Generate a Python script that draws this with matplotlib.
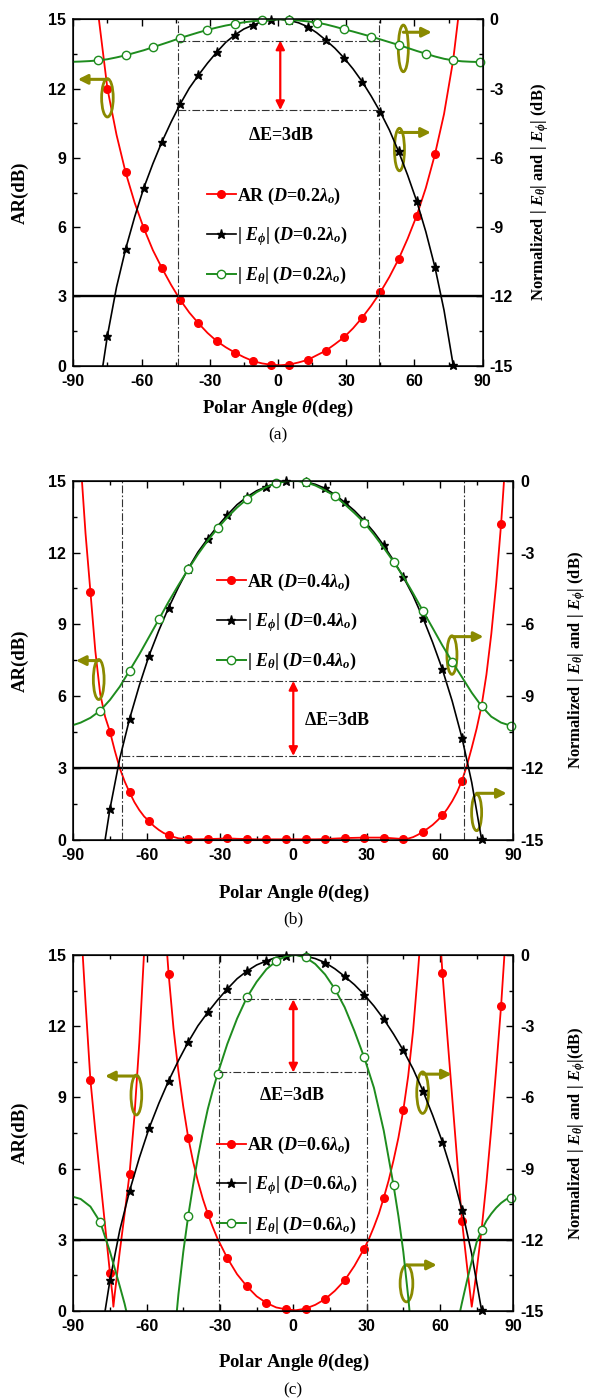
import matplotlib.pyplot as plt
from matplotlib.patches import Ellipse
from matplotlib.lines import Line2D

# Serif bold text everywhere, with bold italic math symbols
plt.rcParams['font.family'] = ['Liberation Serif', 'DejaVu Serif']
plt.rcParams['font.weight'] = 'bold'
plt.rcParams['mathtext.fontset'] = 'custom'
plt.rcParams['mathtext.rm'] = 'Liberation Serif:bold'
plt.rcParams['mathtext.it'] = 'Liberation Serif:italic:bold'
plt.rcParams['mathtext.bf'] = 'Liberation Serif:bold'
plt.rcParams['axes.unicode_minus'] = False

# Marker angles (deg)
mk8 = [-83, -75, -67, -59, -51, -43, -35, -27, -19, -11, -3, 5, 13, 21, 29, 37, 45, 53, 61, 69, 77, 85]
mk12 = [-79, -67, -55, -43, -31, -19, -7, 5, 17, 29, 41, 53, 65, 77, 89]

# Angle grid used by most curves (deg)
grid4 = [-87, -83, -79, -75, -71, -67, -63, -59, -55, -51, -47, -43, -39, -35, -31, -27, -23,
         -19, -15, -11, -7, -3, 1, 5, 9, 13, 17, 21, 25, 29, 33, 37, 41, 45, 49, 53, 57,
         61, 65, 69, 73, 77, 81, 85, 89]

# |E_phi| (dB) - same for all three spacings
ephi_x = grid4
ephi_db = [-24, -20, -16.3, -13.7, -11.6, -9.95, -8.55, -7.3, -6.25, -5.3, -4.45, -3.67, -2.98,
           -2.42, -1.9, -1.43, -1.0, -0.68, -0.42, -0.25, -0.1, -0.03, 0.0, -0.05, -0.15, -0.32,
           -0.58, -0.9, -1.25, -1.67, -2.15, -2.7, -3.33, -4.02, -4.8, -5.72, -6.75, -7.88,
           -9.2, -10.73, -12.6, -14.96, -17.8, -21, -25]

# (a) D = 0.2 lambda
ar_a_x = grid4
ar_a = [24, 19.5, 15.2, 12.0, 10.0, 8.37, 7.05, 5.95, 5.0, 4.22, 3.5, 2.85, 2.3, 1.84, 1.42,
        1.07, 0.8, 0.57, 0.37, 0.2, 0.1, 0.04, 0.02, 0.05, 0.14, 0.25, 0.45, 0.65, 0.93, 1.23,
        1.62, 2.08, 2.6, 3.18, 3.85, 4.61, 5.5, 6.5, 7.7, 9.15, 10.9, 13.22, 16.5, 21, 26]
eth_a_x = [-90] + grid4 + [90]
eth_a = [-1.84, -1.83, -1.81, -1.78, -1.73, -1.65, -1.56, -1.45, -1.34, -1.21, -1.08, -0.95,
         -0.81, -0.69, -0.57, -0.46, -0.36, -0.27, -0.2, -0.13, -0.08, -0.05, -0.02, 0.0,
         -0.02, -0.05, -0.09, -0.14, -0.22, -0.32, -0.43, -0.53, -0.64, -0.75, -0.87, -0.99,
         -1.11, -1.24, -1.37, -1.49, -1.61, -1.71, -1.78, -1.82, -1.84, -1.85, -1.85]

# (b) D = 0.4 lambda
ar_b_x = [-89, -87, -85, -83, -81, -79, -77, -75, -73, -71, -69, -67, -65, -63, -61, -59, -57,
          -55, -53, -51, -49, -47, -43, -39, -35, -31, -27, -23, -19, -15, -11, -7, -3, 1, 5,
          9, 13, 17, 21, 25, 29, 33, 37, 41, 45, 47, 49, 51, 53, 55, 57, 59, 61, 63, 65, 67,
          69, 71, 73, 75, 77, 79, 81, 83, 85, 87, 89]
ar_b = [20, 15.8, 12.8, 10.37, 7.9, 6.1, 5.15, 4.52, 3.72, 3.0, 2.45, 1.99, 1.58, 1.25, 0.98,
        0.79, 0.58, 0.42, 0.29, 0.21, 0.13, 0.07, 0.03, 0.03, 0.04, 0.05, 0.07, 0.05, 0.04,
        0.03, 0.03, 0.03, 0.03, 0.03, 0.03, 0.03, 0.04, 0.06, 0.08, 0.09, 0.1, 0.1, 0.1, 0.07,
        0.04, 0.06, 0.12, 0.22, 0.35, 0.48, 0.63, 0.82, 1.03, 1.3, 1.62, 2.0, 2.48, 3.1, 3.85,
        4.65, 5.59, 6.9, 8.6, 10.7, 13.18, 16.2, 20]
eth_b_x = [-90] + grid4 + [90]
eth_b = [-10.2, -10.1, -9.9, -9.6, -9.15, -8.6, -7.93, -7.25, -6.52, -5.79, -5.05, -4.36, -3.7,
         -3.07, -2.5, -1.99, -1.53, -1.12, -0.77, -0.48, -0.26, -0.11, -0.02, 0.0, -0.06,
         -0.2, -0.4, -0.64, -0.98, -1.35, -1.75, -2.25, -2.8, -3.38, -4.0, -4.7, -5.43,
         -6.15, -6.88, -7.56, -8.2, -8.85, -9.41, -9.85, -10.1, -10.23, -10.25]

# (c) D = 0.6 lambda
ar_c_x = [-89, -87, -85, -83, -81, -79, -77, -75, -74, -73.6, -73, -71, -69, -67, -65, -63,
          -61, -59, -57, -55, -53, -51, -49, -47, -45, -43, -41, -39, -37, -35, -33, -31,
          -27, -23, -19, -15, -11, -7, -3, 1, 5, 9, 13, 17, 21, 25, 29, 31, 33, 35, 37, 39,
          41, 43, 45, 47, 49, 51, 53, 55, 57, 59, 61, 63, 65, 67, 69, 71, 72, 73, 74, 75,
          77, 79, 81, 83, 85, 87, 89]
ar_c = [22, 16.5, 13.0, 9.73, 7.6, 5.6, 3.6, 1.59, 0.7, 0.18, 0.75, 2.5, 4.1, 5.77, 8.2, 11.3,
        15.2, 20, 26, 26, 17, 14.2, 11.9, 10.1, 8.6, 7.31, 6.3, 5.45, 4.72, 4.1, 3.55, 3.05,
        2.23, 1.55, 1.04, 0.62, 0.34, 0.15, 0.07, 0.03, 0.1, 0.26, 0.5, 0.85, 1.29, 1.9,
        2.63, 3.05, 3.55, 4.1, 4.77, 5.5, 6.35, 7.3, 8.46, 9.9, 11.8, 14.3, 17, 25, 25, 17.5,
        14.25, 11.6, 9.0, 6.4, 3.8, 1.95, 1.05, 0.18, 0.9, 1.7, 3.4, 5.4, 7.7, 10.2, 12.85,
        16, 21]
eth_c_x = [-90, -87, -83, -79, -75, -71, -69, -67, -65, -63, -59, -55, -51, -49, -47, -45, -43,
           -41, -39, -37, -35, -33, -31, -27, -23, -19, -15, -11, -7, -3, 1, 5, 9, 13, 17, 21,
           25, 29, 33, 37, 41, 43, 45, 47, 49, 51, 55, 59, 63, 65, 67, 69, 71, 73, 75, 77, 79,
           81, 83, 85, 87, 89, 90]
eth_c = [-10.19, -10.28, -10.6, -11.25, -12.5, -13.95, -14.7, -15.6, -16.8, -18.5, -24, -30,
         -22, -16.5, -14.3, -12.5, -11.0, -9.7, -8.5, -7.45, -6.5, -5.72, -5.02, -3.75, -2.68,
         -1.79, -1.13, -0.6, -0.26, -0.05, 0.0, -0.1, -0.38, -0.82, -1.43, -2.2, -3.2, -4.31,
         -5.6, -7.4, -9.7, -11.0, -12.5, -14.4, -16.6, -22, -30, -24, -18.5, -16.8, -15.6,
         -14.65, -13.75, -12.9, -12.1, -11.6, -11.2, -10.9, -10.65, -10.45, -10.3, -10.22,
         -10.2]

spacing = ['0.2', '0.4', '0.6']
# beamwidth marks: angle limits and the two |E| levels (dB)
bw_angles = [(-44, 44.5), (-70, 70), (-30.5, 30)]
bw_levels = [(-0.92, -3.93), (-8.36, -11.49), (-1.87, -4.95)]
de_text_pos = [(1.3, 9.95), (18, 5.0), (-0.5, 9.1)]
arrow_x = [1, 0, 0]

# circle-and-arrow pointers: (center x, center y, width, height, arrow y, arrow tip x) in AR units
pointers = [
    [(-75.0, 11.6, 5.1, 1.66, 12.4, -88.0), (55.1, 13.74, 4.4, 2.02, 14.44, 67.6),
     (53.4, 9.36, 4.4, 1.84, 10.1, 67.2)],
    [(-79.6, 6.7, 4.4, 1.67, 7.49, -88.9), (64.9, 7.72, 4.1, 1.61, 8.49, 77.8),
     (75.0, 1.15, 4.1, 1.52, 1.95, 87.3)],
    [(-64.2, 9.1, 4.4, 1.68, 9.9, -77.0), (52.9, 9.2, 4.8, 1.75, 9.98, 64.8),
     (46.3, 1.16, 5.2, 1.55, 1.94, 58.7)],
]

# panel placement in pixels: left, right, top, bottom (figure is 598 x 1400)
W, H = 598, 1400
boxes = [(73.3, 482.7, 19.3, 365.7), (73.3, 513.3, 480.7, 840), (73.3, 513.3, 955, 1311)]
xlabel_y = [408, 893, 1362]
caption_y = [435, 919, 1390]
rlabel_x = [540, 577, 577]
legend_y = [0.375, 0.607, 0.353]
rlabels = [r'Normalized | $E_\theta$| and | $E_\phi$| (dB)',
           r'Normalized | $E_\theta$| and | $E_\phi$| (dB)',
           r'Normalized | $E_\theta$| and | $E_\phi$|(dB)']

ar_x = [ar_a_x, ar_b_x, ar_c_x]
ar_y = [ar_a, ar_b, ar_c]
eth_x = [eth_a_x, eth_b_x, eth_c_x]
eth_y = [eth_a, eth_b, eth_c]

olive = '#8a8a00'
green = '#1e8c1e'
dashdot = (0, (7, 2, 1.5, 2))


def marks(x, y, every, lo, hi):
    pts = [(a, v) for a, v in zip(x, y) if a in every and lo <= v <= hi]
    return [p[0] for p in pts], [p[1] for p in pts]


def sans_ticks(axis):
    for lbl in axis.get_xticklabels() + axis.get_yticklabels():
        lbl.set_fontfamily('Liberation Sans')
        lbl.set_fontweight('bold')
        lbl.set_fontsize(11.5)


fig = plt.figure(figsize=(W / 100, H / 100), dpi=100)

for i in range(3):
    l, r, t, b = boxes[i]
    ax = fig.add_axes([l / W, 1 - b / H, (r - l) / W, (b - t) / H])
    ax2 = ax.twinx()

    # AR on the left axis
    ax.plot(ar_x[i], ar_y[i], color='red', lw=1.3)
    mx, my = marks(ar_x[i], ar_y[i], mk8, 0, 15)
    ax.plot(mx, my, 'o', color='red', ms=5.5, clip_on=False)
    ax.axhline(3, color='black', lw=1.7)

    # field patterns on the right axis
    ax2.plot(ephi_x, ephi_db, color='black', lw=1.2)
    mx, my = marks(ephi_x, ephi_db, mk8, -15, 0)
    ax2.plot(mx, my, '*', color='black', ms=6.5, clip_on=False)
    ax2.plot(eth_x[i], eth_y[i], color=green, lw=1.4)
    mx, my = marks(eth_x[i], eth_y[i], mk12, -15, 0)
    ax2.plot(mx, my, 'o', color=green, mfc='white', mew=1.0, ms=6, clip_on=False)

    # 3 dB beamwidth marks
    a0, a1 = bw_angles[i]
    for a in (a0, a1):
        ax.axvline(a, color='#333333', lw=0.8, ls=dashdot)
    for lev in bw_levels[i]:
        ax2.plot([a0, a1], [lev, lev], color='#333333', lw=0.8, ls=dashdot)
    ax2.annotate('', xy=(arrow_x[i], bw_levels[i][0]), xytext=(arrow_x[i], bw_levels[i][1]),
                 arrowprops=dict(arrowstyle='<|-|>', color='red', lw=1.6, mutation_scale=13,
                                 shrinkA=0, shrinkB=0))
    ax.text(de_text_pos[i][0], de_text_pos[i][1], r'$\Delta$E=3dB', ha='center', va='center',
            fontsize=13)

    # which axis each curve belongs to
    for cx, cy, ew, eh, ay, tip in pointers[i]:
        ax.add_patch(Ellipse((cx, cy), ew, eh, fill=False, ec=olive, lw=2.0, zorder=5))
        ax.annotate('', xy=(tip, ay), xytext=(cx, ay),
                    arrowprops=dict(arrowstyle='-|>', color=olive, lw=2.2, mutation_scale=14,
                                    shrinkA=0, shrinkB=0), zorder=5)

    # axes, ticks
    ax.set_xlim(-90, 90)
    ax.set_ylim(0, 15)
    ax2.set_ylim(-15, 0)
    ax.set_xticks(range(-90, 91, 30))
    ax.set_xticks(range(-75, 90, 30), minor=True)
    ax.set_yticks(range(0, 16, 3))
    ax.set_yticks([1.5, 4.5, 7.5, 10.5, 13.5], minor=True)
    ax2.set_yticks(range(-15, 1, 3))
    ax2.set_yticks([-13.5, -10.5, -7.5, -4.5, -1.5], minor=True)
    ax.tick_params(which='both', direction='in', top=True, right=False, pad=5)
    ax.tick_params(axis='x', pad=6)
    ax.tick_params(which='major', length=5, width=1)
    ax.tick_params(which='minor', length=3, width=1)
    ax2.tick_params(which='both', direction='in', pad=5)
    ax2.tick_params(which='major', length=5, width=1)
    ax2.tick_params(which='minor', length=3, width=1)
    sans_ticks(ax)
    sans_ticks(ax2)
    for sp in ax2.spines.values():
        sp.set_linewidth(1.1)

    # legend
    d = spacing[i]
    handles = [Line2D([], [], color='red', marker='o', ms=5.5, lw=1.3),
               Line2D([], [], color='black', marker='*', ms=6.5, lw=1.2),
               Line2D([], [], color=green, marker='o', mfc='white', ms=6, lw=1.4)]
    labels = [r'AR ($D$=' + d + r'$\lambda_o$)',
              r'| $E_\phi$| ($D$=' + d + r'$\lambda_o$)',
              r'| $E_\theta$| ($D$=' + d + r'$\lambda_o$)']
    ax2.legend(handles, labels, loc='center left', bbox_to_anchor=(0.326, legend_y[i]),
               frameon=False, fontsize=13, handlelength=1.6, handletextpad=0.1,
               labelspacing=0.95, borderpad=0, borderaxespad=0)

    # labels
    cx = (l + r) / 2
    fig.text(cx / W, 1 - xlabel_y[i] / H, r'Polar Angle $\theta$(deg)', ha='center',
             va='center', fontsize=13.5)
    fig.text(cx / W, 1 - caption_y[i] / H, '(' + 'abc'[i] + ')', ha='center', va='center',
             fontsize=12.5, fontweight='normal')
    fig.text(20 / W, 1 - (t + b) / 2 / H, 'AR(dB)', rotation=90, ha='center', va='center',
             fontsize=13.5)
    fig.text(rlabel_x[i] / W, 1 - (t + b) / 2 / H, rlabels[i], rotation=90, ha='center',
             va='center', fontsize=12)

fig.savefig('out.png', dpi=100)
